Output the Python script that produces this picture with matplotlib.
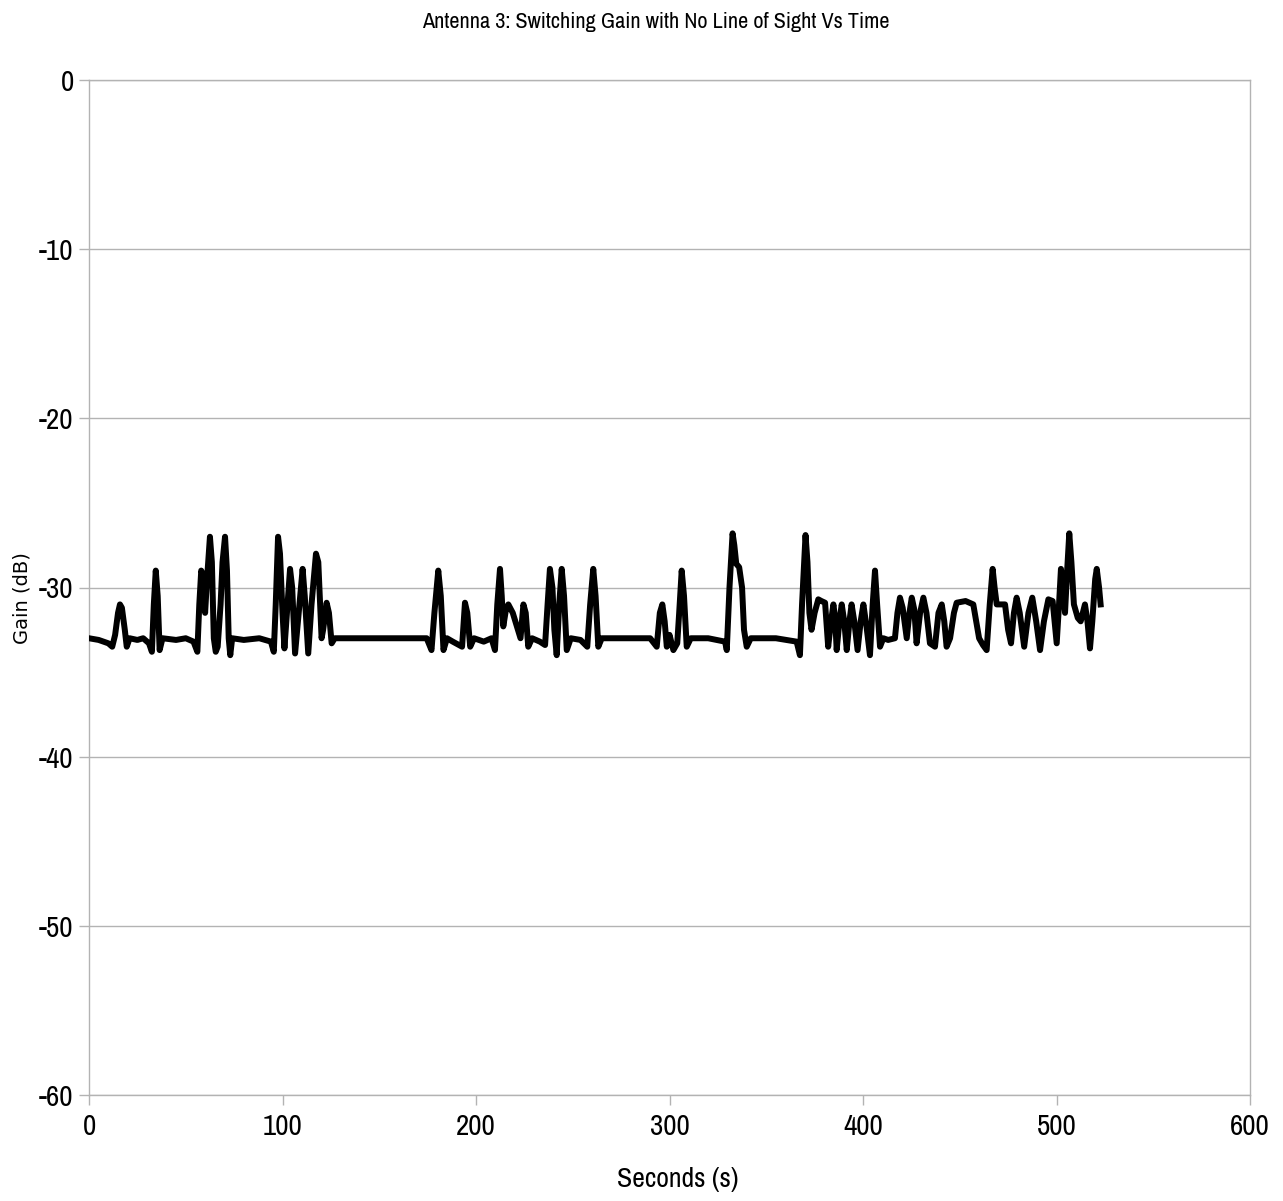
import matplotlib
matplotlib.use("Agg")
import matplotlib.pyplot as plt
from matplotlib import font_manager

# Data (time in seconds, gain in dB)
time_s = [0, 5, 10, 12, 13.5, 15, 16, 17, 18.5, 19.5, 21, 25, 28, 31, 32.5, 33.5, 34.5, 35.5, 36.5, 38,
          45, 50, 54, 56, 57, 58, 59, 60, 61, 62.5, 63.5, 64.5, 65.5, 66.5, 68, 69, 70.3, 71.3, 72.2, 73,
          74, 80, 88, 94, 95.5, 96.5, 97.7, 98.7, 100, 101, 102, 103.9, 105, 106.5, 108, 110.4, 111.5, 113.3,
          115, 117.3, 118.5, 120.2, 121, 122.8, 124, 125.4, 127, 150, 174.5, 177, 178.5, 180.5, 181.8, 183.2,
          185, 188, 192.8, 194.3, 195.5, 197, 199, 204, 208, 209.8, 211, 212.4, 213.3, 214.1, 215.5, 216.7,
          219, 221.7, 223, 224.5, 225.7, 227, 229, 233, 235.7, 237, 238.2, 239.5, 240.5, 241.7, 243, 244.3,
          245.5, 246.9, 249, 254, 257.5, 259, 260.6, 261.8, 263.2, 265, 280, 290, 293.4, 295, 296.3, 297.5,
          298.6, 300, 302, 304, 305, 306.3, 307.5, 308.9, 311, 320, 328.7, 329.6, 331, 332.6, 333.5, 334.5,
          336, 337.5, 338.5, 339.9, 342, 355, 365.7, 367.4, 368.5, 370.3, 371.3, 372.3, 373.4, 375, 376.9,
          378.5, 380.4, 382, 383.5, 384.7, 385.6, 386.4, 387.8, 389, 390.3, 391.6, 393, 394.1, 395.5, 397.2,
          398.8, 400.2, 401.8, 403.6, 405, 406.2, 407.3, 408.8, 410.5, 413, 416.5, 417.8, 419.1, 420.5,
          422.6, 424, 425.2, 426.5, 427.7, 429.5, 431.2, 432.8, 434.6, 437.2, 439, 440.7, 442, 443.2, 445,
          447, 448.4, 453, 457, 458.5, 460, 462, 463.9, 465.5, 467, 468, 469.1, 473.4, 475, 476.5, 478,
          479.4, 481, 483.3, 485.5, 487.5, 489.5, 491.5, 493.5, 495.8, 498, 500.1, 501.3, 502.3, 503.4,
          504.4, 505.5, 506.6, 507.7, 509, 511, 512.5, 514.7, 516, 517.3, 518.5, 520, 520.8, 522, 522.8]
gain_db = [-33, -33.1, -33.3, -33.5, -32.8, -31.5, -31, -31.2, -32.5, -33.5, -33, -33.1, -33, -33.3, -33.8, -31, -29, -30.5, -33.7, -33,
           -33.1, -33, -33.2, -33.8, -31, -29, -29.3, -31.5, -29.5, -27, -28.5, -33, -33.8, -33.5, -31, -28.5, -27, -29, -33, -34,
           -33, -33.1, -33, -33.2, -33.8, -31, -27, -28, -31.5, -33.6, -32, -28.9, -30, -33.9, -32, -28.9, -30.5, -33.9,
           -31, -28, -28.5, -33, -32.5, -30.9, -31.5, -33.3, -33, -33, -33, -33.7, -31.5, -29, -30.5, -33.7,
           -33, -33.2, -33.5, -30.9, -31.5, -33.5, -33, -33.2, -33, -33.7, -31, -28.9, -30.5, -32.3, -31.3, -31,
           -31.5, -32.5, -33, -31, -31.5, -33.5, -33, -33.2, -33.4, -31, -28.9, -30, -32.5, -34, -31, -28.9,
           -30.5, -33.7, -33, -33.1, -33.5, -31, -28.9, -30.5, -33.5, -33, -33, -33, -33.5, -31.5, -31, -32,
           -33.5, -32.8, -33.7, -33.3, -31.5, -29, -30.5, -33.5, -33, -33, -33.2, -33.7, -30, -26.8, -27.5, -28.6,
           -28.8, -30, -32.5, -33.5, -33, -33, -33.2, -34, -31, -26.9, -28.5, -31.5, -32.5, -31.5, -30.7,
           -30.8, -30.9, -33.5, -32, -31, -31.8, -33.7, -32, -31, -32, -33.7, -32, -31, -32, -33.7,
           -32, -31, -32.3, -34, -31, -29, -31, -33.5, -33, -33.1, -33, -31.5, -30.6, -31.2,
           -33, -31.5, -30.6, -31.3, -33.3, -31.5, -30.6, -31.5, -33.3, -33.5, -31.5, -31, -32, -33.5, -33,
           -31.5, -30.9, -30.8, -31, -32, -33, -33.4, -33.7, -31, -28.9, -30, -31, -31, -32.5, -33.3, -31.5,
           -30.6, -31.5, -33.5, -31.5, -30.6, -32, -33.7, -32, -30.7, -30.8, -33.3, -31, -28.9, -30,
           -31.5, -29, -26.8, -28.5, -31, -31.8, -32, -31, -32, -33.6, -32, -29.5, -28.9, -30, -31]

x_ticks = [0, 100, 200, 300, 400, 500, 600]
y_ticks = [0, -10, -20, -30, -40, -50, -60]

title = "Antenna 3: Switching Gain with No Line of Sight Vs Time"
x_label = "Seconds (s)"
y_label = "Gain (dB)"


def pick_narrow_font():
    fonts = font_manager.fontManager.ttflist
    regular = [f for f in fonts if f.style == "normal" and f.weight in (400, "normal", "regular")]
    for f in regular:
        if "Narrow" in f.name:
            return font_manager.FontProperties(fname=f.fname), 1.0
    for fam in ("DejaVu Sans", "Noto Sans", "Open Sans", "Liberation Sans", "Roboto"):
        for f in regular:
            if f.name == fam and f.stretch in ("condensed", "semi-condensed", "extra-condensed"):
                return font_manager.FontProperties(fname=f.fname), 0.9
    return font_manager.FontProperties(family="Liberation Sans"), 0.8


narrow_fp, scale = pick_narrow_font()


def fp(size):
    p = narrow_fp.copy()
    p.set_size(size * scale)
    return p


grid_col = "#b3b3b3"

fig = plt.figure(figsize=(12.83, 12.01), dpi=100)
ax = fig.add_axes([89 / 1283, 1 - 1095 / 1201, (1250 - 89) / 1283, (1095 - 80) / 1201])

ax.plot(time_s, gain_db, color="black", linewidth=4.3, solid_joinstyle="round", zorder=3)

ax.set_xlim(0, 600)
ax.set_ylim(-60, 0)
ax.set_xticks(x_ticks)
ax.set_yticks(y_ticks)
ax.set_xticklabels([str(v) for v in x_ticks], fontproperties=fp(21))
ax.set_yticklabels([str(v) for v in y_ticks], fontproperties=fp(21))
ax.tick_params(axis="both", colors=grid_col, labelcolor="black", length=7, width=1)
ax.tick_params(axis="x", pad=6)
ax.tick_params(axis="y", pad=4)

ax.yaxis.grid(True, color=grid_col, linewidth=1)
ax.xaxis.grid(False)
for s in ax.spines.values():
    s.set_color(grid_col)
    s.set_linewidth(1)

fig.text(656 / 1283, 1 - 22 / 1201, title, ha="center", va="center", fontproperties=fp(16))
fig.text(678 / 1283, 1 - 1180 / 1201, x_label, ha="center", va="center", fontproperties=fp(20))
fig.text(22 / 1283, 1 - 598 / 1201, y_label, ha="center", va="center", rotation=90, fontsize=14,
         fontfamily=["DejaVu Sans"])

fig.savefig("out.png", dpi=100, facecolor="white")
